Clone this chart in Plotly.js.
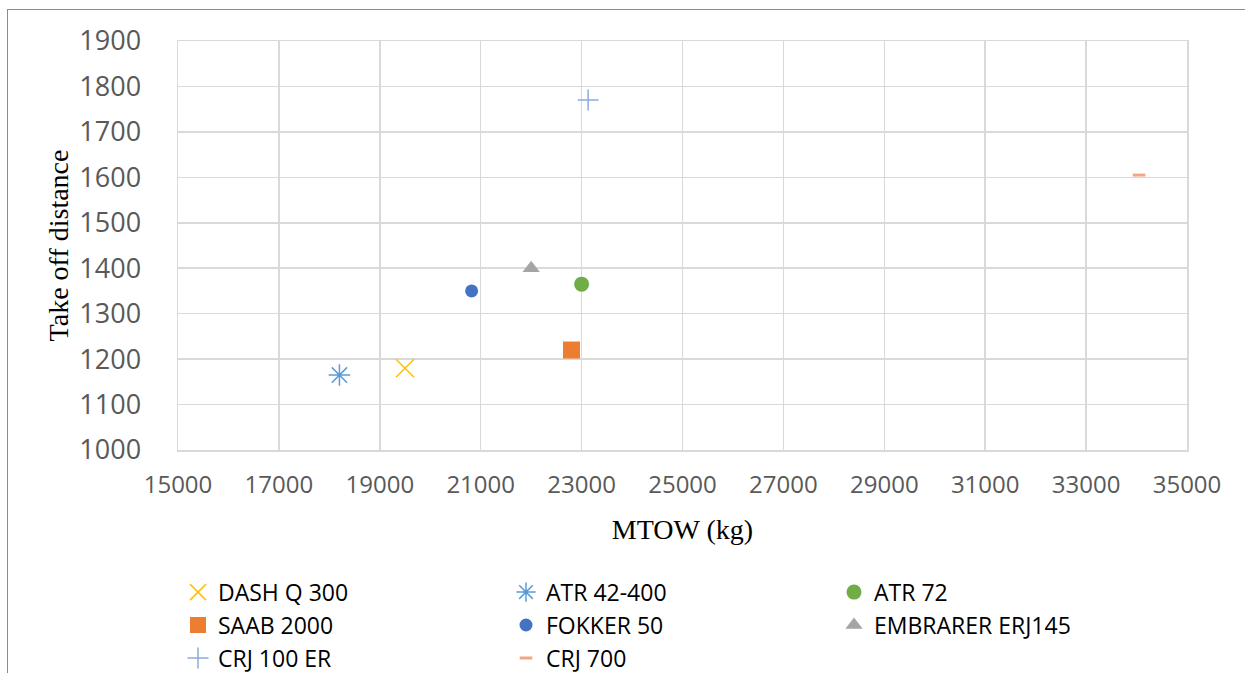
<!DOCTYPE html>
<html>
<head>
<meta charset="utf-8">
<script src="https://cdn.plot.ly/plotly-3.0.1.min.js"></script>
<style>
  html, body { margin: 0; padding: 0; background: #fff; }
  #frame { position: absolute; left: 7px; top: 9px; width: 1300px; height: 700px; border-left: 1.5px solid #8c8c8c; border-top: 1.5px solid #8c8c8c; pointer-events: none; }
  #chart { position: absolute; left: 0; top: 0; width: 1245px; height: 673px; }
</style>
</head>
<body>
<div id="chart"></div>
<div id="frame"></div>
<script>
const aircraft = ["DASH Q 300", "ATR 42-400", "ATR 72", "SAAB 2000", "FOKKER 50", "EMBRARER ERJ145", "CRJ 100 ER", "CRJ 700"];
const mtow = [19500, 18200, 23000, 22800, 20820, 22000, 23130, 34050];
const takeoff = [1180, 1165, 1365, 1220, 1350, 1400, 1770, 1605];
const xTickVals = [15000, 17000, 19000, 21000, 23000, 25000, 27000, 29000, 31000, 33000, 35000];
const yTickVals = [1000, 1100, 1200, 1300, 1400, 1500, 1600, 1700, 1800, 1900];

const styles = [
  {symbol: "x-thin-open", size: 18, color: "#FFC000", line: {color: "#FFC000", width: 1.5}},
  {symbol: "asterisk-open", size: 18, color: "#5B9BD5", line: {color: "#5B9BD5", width: 1.5}},
  {symbol: "circle", size: 15, color: "#70AD47", line: {width: 0}},
  {symbol: "square", size: 17, color: "#ED7D31", line: {width: 0}},
  {symbol: "circle", size: 13, color: "#4472C4", line: {width: 0}},
  {symbol: "triangle-up", size: 15, color: "#A5A5A5", line: {width: 0}},
  {symbol: "cross-thin-open", size: 15, color: "#8FAADC", line: {color: "#8FAADC", width: 1.5}},
  {symbol: "line-ew-open", size: 9, color: "#F4A582", line: {color: "#F4A582", width: 3}}
];

const traces = aircraft.map((name, i) => ({
  type: "scatter",
  mode: "markers",
  name: name,
  x: [mtow[i]],
  y: [takeoff[i]],
  marker: styles[i],
  cliponaxis: false
}));

const layout = {
  width: 1245,
  height: 673,
  paper_bgcolor: "rgba(0,0,0,0)",
  plot_bgcolor: "#fff",
  margin: {l: 178, r: 58, t: 41, b: 223, autoexpand: false},
  showlegend: true,
  xaxis: {
    range: [15000, 35000],
    tickvals: xTickVals,
    ticktext: xTickVals.map(String),
    showgrid: true,
    gridcolor: "#D9D9D9",
    gridwidth: 1.5,
    zeroline: false,
    showline: true,
    linecolor: "#D9D9D9",
    linewidth: 1.5,
    mirror: true,
    ticks: "",
    ticklabelstandoff: 13,
    tickfont: {family: "Open Sans", size: 24, color: "#595959"},
    title: {text: "MTOW (kg)", font: {family: "Liberation Serif", size: 28, color: "#000"}, standoff: 20}
  },
  yaxis: {
    range: [1000, 1900],
    tickvals: yTickVals,
    ticktext: yTickVals.map(String),
    showgrid: true,
    gridcolor: "#D9D9D9",
    gridwidth: 1.5,
    zeroline: false,
    showline: true,
    linecolor: "#D9D9D9",
    linewidth: 1.5,
    mirror: true,
    ticks: "",
    ticklabelstandoff: 30,
    tickfont: {family: "Open Sans", size: 27, color: "#595959"},
    title: {text: "Take off distance", font: {family: "Liberation Serif", size: 28, color: "#000"}, standoff: 2}
  },
  legend: {
    orientation: "h",
    x: 0,
    xanchor: "left",
    y: -0.295,
    yanchor: "top",
    entrywidth: 283,
    entrywidthmode: "pixels",
    font: {family: "Open Sans", size: 23, color: "#000"},
    bgcolor: "rgba(0,0,0,0)",
    traceorder: "normal"
  }
};

Plotly.newPlot("chart", traces, layout, {displayModeBar: false, staticPlot: true});
</script>
</body>
</html>
